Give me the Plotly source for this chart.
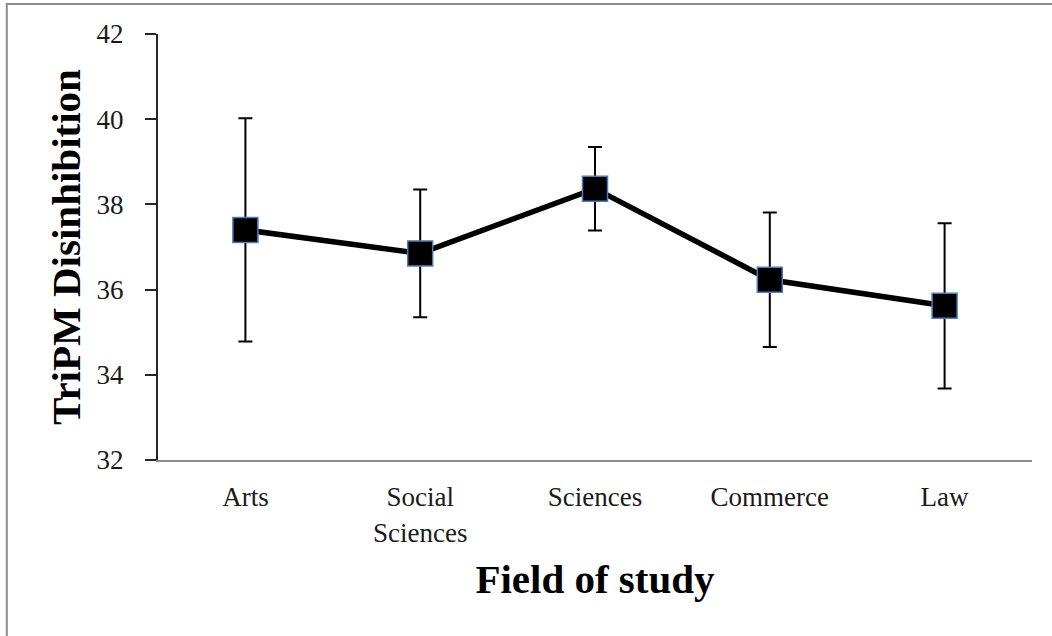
import plotly.graph_objects as go

# Mean TriPM Disinhibition score by field of study, with error bars
fields = ["Arts", "Social<br>Sciences", "Sciences", "Commerce", "Law"]
means = [37.4, 36.85, 38.37, 36.23, 35.62]
errors = [2.62, 1.5, 0.98, 1.58, 1.94]
y_ticks = [32, 34, 36, 38, 40, 42]

SERIF = "Liberation Serif, Times New Roman, serif"

fig = go.Figure()
fig.add_trace(go.Scatter(
    x=fields,
    y=means,
    mode="lines+markers",
    line=dict(color="black", width=5.5),
    marker=dict(symbol="square", size=25, color="black",
                line=dict(color="#4a7ebb", width=1.5)),
    error_y=dict(type="data", array=errors, visible=True,
                 color="black", thickness=2, width=7),
    showlegend=False,
))

fig.update_layout(
    width=1052,
    height=636,
    margin=dict(l=158, r=20, t=34, b=176),
    paper_bgcolor="white",
    plot_bgcolor="white",
    font=dict(family=SERIF, color="black"),
    xaxis=dict(
        type="category",
        range=[-0.5, 4.5],
        showgrid=False,
        zeroline=False,
        showline=True,
        linecolor="#8c8c8c",
        linewidth=2,
        ticks="",
        tickfont=dict(family=SERIF, size=27, color="#1a1a1a"),
        ticklabelstandoff=12,
        title=dict(text="<b>Field of study</b>",
                   font=dict(family=SERIF, size=41, color="black"),
                   standoff=18),
    ),
    yaxis=dict(
        range=[32, 42],
        tickvals=y_ticks,
        showgrid=False,
        zeroline=False,
        showline=True,
        linecolor="#262626",
        linewidth=2,
        ticks="outside",
        ticklen=11,
        tickwidth=2,
        tickcolor="#262626",
        tickfont=dict(family=SERIF, size=27, color="#1a1a1a"),
        ticklabelstandoff=16,
        title=dict(text="<b>TriPM Disinhibition</b>",
                   font=dict(family=SERIF, size=41, color="black"),
                   standoff=3),
    ),
    shapes=[
        # outer chart frame
        dict(type="rect", xref="paper", yref="paper",
             x0=-0.173, x1=1.05, y0=-0.45, y1=1.0704,
             line=dict(color="#8c8c8c", width=2), fillcolor="rgba(0,0,0,0)",
             layer="below"),
    ],
)

fig.write_html("out.html")
